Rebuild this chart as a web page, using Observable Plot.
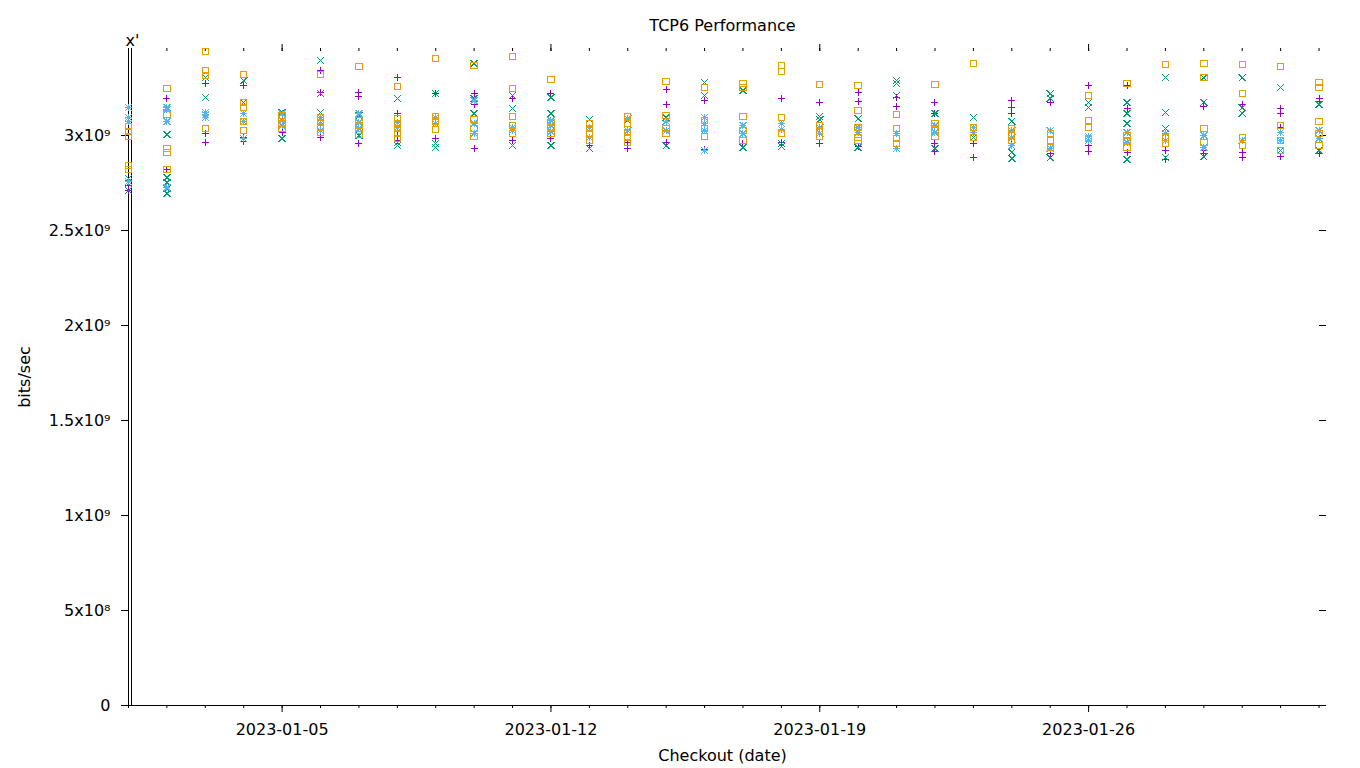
<!DOCTYPE html>
<html><head><meta charset="utf-8">
<script src="https://cdn.jsdelivr.net/npm/d3@7"></script>
<script src="https://cdn.jsdelivr.net/npm/@observablehq/plot@0.6"></script>
<style>body{margin:0;background:#fff}#chart svg{font-family:"DejaVu Sans",sans-serif}</style>
</head><body><div id="chart"></div>
<script>
// Checkout dates (one column of points per day)
const dayLabels = ["2023-01-01","2023-01-02","2023-01-03","2023-01-04","2023-01-05","2023-01-06","2023-01-07","2023-01-08",
  "2023-01-09","2023-01-10","2023-01-11","2023-01-12","2023-01-13","2023-01-14","2023-01-15","2023-01-16",
  "2023-01-17","2023-01-18","2023-01-19","2023-01-20","2023-01-21","2023-01-22","2023-01-23","2023-01-24",
  "2023-01-25","2023-01-26","2023-01-27","2023-01-28","2023-01-29","2023-01-30","2023-01-31","2023-02-01"];
const majorDayLabels = ["2023-01-05","2023-01-12","2023-01-19","2023-01-26"];

// Throughput per day, in Gbit/s (x10^9 bits/sec)
const series1 = [[2.737,2.711],[3.195,2.821,2.726],[3.274,3.011,2.963],[3.263,2.989,2.968],[3.016],[3.342,3.226,2.989],
  [3.226,3.205,2.958],[3.305,3.116,3.000,2.974],[3.221,2.984],[3.221,3.163,2.932],[3.195,2.974],[3.221,2.984],[2.947],
  [2.963,2.932],[3.242,3.163,2.963],[3.184,2.926],[2.958],[3.195,2.963],[3.174,2.958],[3.226,3.179,2.942],[3.200,3.153,2.932],
  [3.174,3.116,2.958,2.916],[2.958,2.884],[3.184,3.147,3.116,2.984],[3.174,2.905],[3.263,2.947,2.916],[3.263,3.142,2.911],
  [2.921,2.874],[3.153,2.921,2.905],[3.163,2.911,2.884],[3.142,3.116,3.042,2.889],[3.195,3.179,2.905]];
const series2 = [[2.774,2.747,2.711],[3.005,2.779,2.753,2.721,2.695],[3.305,3.200],[3.289,3.174,2.984],[3.121,2.984],
  [3.395,3.221,3.121],[3.105,3.000],[3.195,2.963,2.947],[3.221,2.958,2.937],[3.379,3.195,3.116],[3.211,3.142,2.947],
  [3.200,3.116,2.947],[3.084,2.932],[3.079],[3.095,2.947],[3.279,3.211,2.921],[3.237,2.937],[2.958,2.942],[3.100,3.084],
  [3.089,2.937],[3.289,3.274,3.211],[3.116,2.932],[3.095,2.989],[3.074,2.911,2.879],[3.221,3.195,2.884],[3.174,3.147],
  [3.174,3.116,3.063,2.874],[3.305,3.121,3.037,2.884],[3.305,3.174,2.889],[3.305,3.147,3.116],[3.253,2.921],[3.163,2.921]];
const series3 = [[3.147,3.095,3.074,2.758],[3.147,3.137,3.074,2.726],[3.121,3.111,3.095],[3.116,3.074,2.984],[3.116,3.079,3.053],
  [3.095,3.063,3.026],[3.116,3.068,3.037],[3.068,3.042],[3.095,3.063],[3.184,3.063,3.011],[3.042,3.026],[3.079,3.053,3.021],
  [3.042,2.989],[3.089,3.026],[3.074,3.026],[3.095,3.063,3.026,2.921],[3.053,3.011],[3.063,3.032],[3.042,3.011],[3.042,3.016],
  [3.011,2.932],[3.053,3.016],[3.042,3.016],[3.026,2.989,2.947],[3.026,2.932],[2.995,2.974],[3.016,2.963],[3.011,2.974],
  [3.000,2.937],[2.974],[3.016,2.974],[3.026,2.984]];
const series4 = [[3.047,3.021,2.995,2.842,2.821],[3.247,3.111,2.932,2.911,2.821],[3.442,3.342,3.316,3.037],
  [3.321,3.174,3.147,3.074,3.026],[3.105,3.089,3.063,3.037],[3.321,3.095,3.068,3.042,3.016],[3.363,3.079,3.053,3.026,3.005],
  [3.258,3.089,3.063,3.037,3.011,2.984],[3.405,3.100,3.074,3.032],[3.368,3.084,3.037,2.995],[3.416,3.247,3.100,3.053,3.011],
  [3.295,3.068,3.042,3.011],[3.063,3.037,3.011,2.974],[3.100,3.063,3.016,2.989,2.963],[3.284,3.105,3.037,3.011],
  [3.253,3.079,3.037,2.995],[3.274,3.253,3.100,3.026,2.974],[3.368,3.337,3.095,3.011],[3.268,3.053,3.026,2.995],
  [3.263,3.132,3.042,2.989,2.974],[3.111,3.037,2.984,2.958],[3.268,3.063,3.026,2.995],[3.379,3.042,2.989],
  [3.037,3.000,2.974],[3.011,2.974,2.937],[3.211,3.079,3.042,2.984],[3.274,3.000,2.974,2.937],[3.374,2.989,2.958],
  [3.379,3.305,3.037,2.963],[3.374,3.221,2.989,2.947],[3.363,3.053,2.974,2.921],[3.279,3.253,3.074,3.011,2.947]];

const seriesColors = ["#9400d3","#009e73","#56b4e9","#e69f00"];
const yTickValues = [0, 5e8, 1e9, 1.5e9, 2e9, 2.5e9, 3e9];
const yTickLabels = ["0","5x10⁸","1x10⁹","1.5x10⁹","2x10⁹","2.5x10⁹","3x10⁹"];

const parseDay = d3.utcParse("%Y-%m-%d");
const days = dayLabels.map(parseDay);
const majorDays = majorDayLabels.map(parseDay);
function rows(vals) {
  const out = [];
  vals.forEach((list, i) => list.forEach(v => out.push({date: days[i], bps: v * 1e9})));
  return out;
}

// gnuplot-like point symbols (r = half width)
const half = s => Math.sqrt(s / Math.PI);
const gpPlus = {draw(c, s) {const h = half(s); c.moveTo(-h, 0); c.lineTo(h, 0); c.moveTo(0, -h); c.lineTo(0, h);}};
const gpTimes = {draw(c, s) {const h = half(s); c.moveTo(-h, -h); c.lineTo(h, h); c.moveTo(-h, h); c.lineTo(h, -h);}};
const gpStar = {draw(c, s) {const h = half(s); c.moveTo(-h, 0); c.lineTo(h, 0); c.moveTo(0, -h); c.lineTo(0, h);
  c.moveTo(-h, -h); c.lineTo(h, h); c.moveTo(-h, h); c.lineTo(h, -h);}};
const gpBox = {draw(c, s) {const h = half(s); c.moveTo(-h, -h); c.lineTo(h, -h); c.lineTo(h, h); c.lineTo(-h, h); c.closePath();}};

const W = 1360, H = 768, mL = 128, mR = 34, mT = 48, mB = 63;
const fw = W - mL - mR, fh = H - mT - mB;
const xDomain = [parseDay("2023-01-01"), new Date(Date.UTC(2023, 1, 1, 4, 40))];
const fs = 16;

const dotOpts = (sym, r, color) => ({x: "date", y: "bps", symbol: sym, r, stroke: color, fill: "none", strokeWidth: 1, shapeRendering: "crispEdges"});
const txt = (extra) => ({text: d => d, fontSize: fs, fill: "#000", lineAnchor: "middle", textAnchor: "middle", ...extra});

const chart = Plot.plot({
  width: W, height: H,
  marginLeft: mL, marginRight: mR, marginTop: mT, marginBottom: mB,
  style: {fontFamily: "DejaVu Sans", fontSize: fs + "px", background: "#fff", color: "#000"},
  x: {type: "utc", domain: xDomain},
  y: {domain: [0, 3.458e9]},
  marks: [
    // borders: double left line, bottom line
    Plot.ruleX([xDomain[0]], {stroke: "#000", strokeWidth: 1}),
    Plot.ruleX([xDomain[0]], {stroke: "#000", strokeWidth: 1, dx: 3}),
    Plot.ruleY([0], {stroke: "#000", strokeWidth: 1}),
    // ticks
    Plot.tickX(days, {x: d => d, insetTop: fh, insetBottom: -3, stroke: "#000"}),
    Plot.tickX(days, {x: d => d, insetTop: 0, insetBottom: fh - 3, stroke: "#000"}),
    Plot.tickX(majorDays, {x: d => d, insetTop: -4, insetBottom: fh - 3, stroke: "#000"}),
    Plot.tickY(yTickValues, {y: d => d, insetLeft: fw - 7, insetRight: 0, stroke: "#000"}),
    Plot.axisX(majorDays, {tickSize: 7, tickPadding: 11, tickFormat: d3.utcFormat("%Y-%m-%d"), label: null, fontSize: fs, stroke: "#000"}),
    Plot.axisY(yTickValues, {tickSize: 7, tickPadding: 11, tickFormat: d => yTickLabels[yTickValues.indexOf(d)], label: null, fontSize: fs, stroke: "#000"}),
    // data
    Plot.dot(rows(series1), dotOpts(gpPlus, 3.5, seriesColors[0])),
    Plot.dot(rows(series2), dotOpts(gpTimes, 3.5, seriesColors[1])),
    Plot.dot(rows(series3), dotOpts(gpStar, 3.5, seriesColors[2])),
    Plot.dot(rows(series4), dotOpts(gpBox, 3.2, seriesColors[3])),
    // texts
    Plot.text(["TCP6 Performance"], txt({frameAnchor: "top", dy: -23, dx: -5})),
    Plot.text(["Checkout (date)"], txt({frameAnchor: "bottom", dy: 50, dx: -5})),
    Plot.text(["bits/sec"], txt({frameAnchor: "left", dx: -104, rotate: -90})),
    Plot.text(["x'"], txt({frameAnchor: "top-left", dx: 4, dy: -8}))
  ]
});
document.getElementById("chart").appendChild(chart);
</script>
</body></html>
